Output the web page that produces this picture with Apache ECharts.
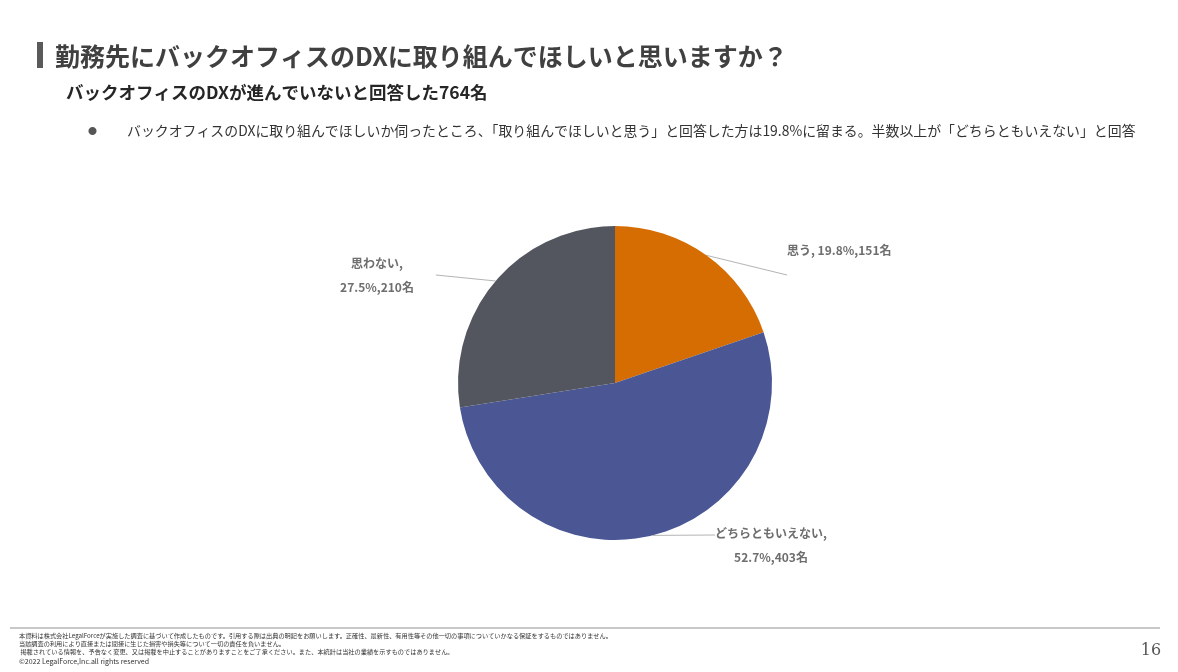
<!DOCTYPE html>
<html>
<head>
<meta charset="utf-8">
<script src="https://cdn.jsdelivr.net/npm/echarts@6/dist/echarts.min.js"></script>
<style>
	html, body { margin: 0; padding: 0; background: #fff; }
	#chart { width: 1178px; height: 672px; }
</style>
</head>
<body>
<div id="chart"></div>
<script>
	// 回答データ（764名）
	var categories = ['思う', 'どちらともいえない', '思わない'];
	var counts = [151, 403, 210];
	var colors = ['#d66d02', '#4a5794', '#53565f'];

	var titleText = '勤務先にバックオフィスのDXに取り組んでほしいと思いますか？';
	var subTitleText = 'バックオフィスのDXが進んでいないと回答した764名';
	var bulletText = 'バックオフィスのDXに取り組んでほしいか伺ったところ、「取り組んでほしいと思う」と回答した方は19.8%に留まる。半数以上が「どちらともいえない」と回答';
	var footerLines = [
		'本資料は株式会社LegalForceが実施した調査に基づいて作成したものです。引用する際は出典の明記をお願いします。正確性、最新性、有用性等その他一切の事項についていかなる保証をするものではありません。',
		'当該調査の利用により直接または間接に生じた損害や損失等について一切の責任を負いません。',
		' 掲載されている情報を、予告なく変更、又は掲載を中止することがありますことをご了承ください。また、本統計は当社の業績を示すものではありません。'
	];
	var copyright = '©2022 LegalForce,Inc.all rights reserved';
	var pageNo = '16';

	var JP = '"Noto Sans CJK JP"';

	//ラベルの配置
	var labelSep = [' ', '\n', '\n'];
	var labelPos = [
		{x: 787, y: 238, align: 'left', verticalAlign: 'top'},
		{x: 771, y: 501, align: 'center', verticalAlign: 'top'},
		{x: 388, y: 275, align: 'center', verticalAlign: 'middle'}
	];
	var labelPad = [[0, 0, 50, 0], [20, 0, 0, 0], [0, 22, 0, 0]];

	var pieData = [];
	for(var i = 0; i < categories.length; i++) {
		pieData.push({
			name: categories[i],
			value: counts[i],
			itemStyle: {color: colors[i]},
			label: {padding: labelPad[i]}
		});
	}

	var footerGraphics = [];
	for(var j = 0; j < footerLines.length; j++) {
		footerGraphics.push({
			type: 'text',
			style: {
				text: footerLines[j],
				x: 19,
				y: 635.5 + j * 8,
				font: '6.2px ' + JP,
				fill: '#333',
				textVerticalAlign: 'middle'
			}
		});
	}

	var chart = echarts.init(document.getElementById('chart'));
	var option = {
		animation: false,
		backgroundColor: '#fff',
		graphic: [{
			type: 'rect',
			shape: {x: 37, y: 42, width: 6, height: 26},
			style: {fill: '#5a5a5a'}
		}, {
			type: 'text',
			style: {
				text: titleText,
				x: 55, y: 56,
				font: 'bold 25px ' + JP,
				fill: '#404040',
				textVerticalAlign: 'middle'
			}
		}, {
			type: 'text',
			style: {
				text: subTitleText,
				x: 66, y: 92,
				font: 'bold 17.5px ' + JP,
				fill: '#262626',
				textVerticalAlign: 'middle'
			}
		}, {
			type: 'text',
			style: {
				text: '●',
				x: 88, y: 131,
				font: '9px ' + JP,
				fill: '#555',
				textVerticalAlign: 'middle'
			}
		}, {
			type: 'text',
			style: {
				text: bulletText,
				x: 127, y: 131,
				font: '13.9px ' + JP,
				fill: '#333',
				textVerticalAlign: 'middle'
			}
		}, {
			type: 'line',
			shape: {x1: 10, y1: 628, x2: 1160, y2: 628},
			style: {stroke: '#c8c8c8', lineWidth: 2}
		}, {
			type: 'text',
			style: {
				text: copyright,
				x: 19, y: 661,
				font: '7px ' + JP,
				fill: '#333',
				textVerticalAlign: 'middle'
			}
		}, {
			type: 'text',
			style: {
				text: pageNo,
				x: 1151, y: 651,
				font: '16px "DejaVu Serif"',
				fill: '#555',
				textAlign: 'center',
				textVerticalAlign: 'middle'
			}
		}].concat(footerGraphics),
		series: [{
			type: 'pie',
			center: [615, 383],
			radius: 157,
			startAngle: 90,
			clockwise: true,
			percentPrecision: 1,
			data: pieData,
			label: {
				show: true,
				position: 'outside',
				color: '#6e6e6e',
				fontFamily: JP,
				fontWeight: 'bold',
				fontSize: 12,
				lineHeight: 24,
				backgroundColor: 'rgba(255,255,255,0)',
				formatter: function(p) {
					return p.name + ',' + labelSep[p.dataIndex] + p.percent.toFixed(1) + '%,' + p.value + '名';
				}
			},
			labelLine: {
				show: true,
				length: 15,
				length2: 0,
				lineStyle: {color: '#b4b4b4', width: 1}
			},
			labelLayout: function(params) {
				return labelPos[params.dataIndex];
			}
		}]
	};
	chart.setOption(option);
</script>
</body>
</html>
